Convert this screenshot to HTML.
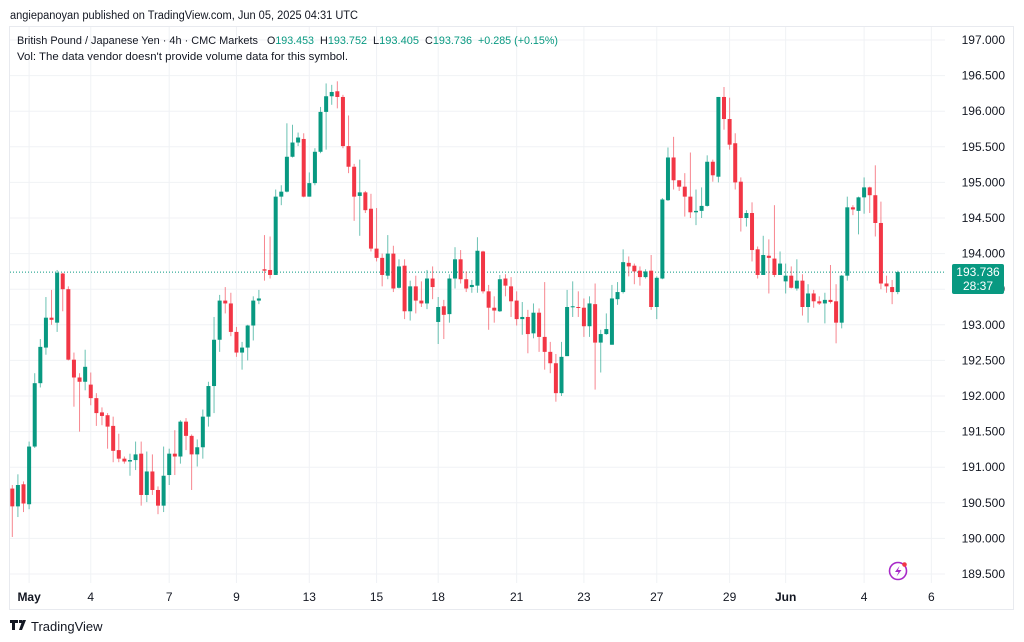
<!DOCTYPE html>
<html><head><meta charset="utf-8"><style>
html,body{margin:0;padding:0;background:#fff;width:1024px;height:642px;overflow:hidden;font-family:"Liberation Sans",sans-serif;}
svg text{font-family:"Liberation Sans",sans-serif;}
</style></head><body>
<svg id="chart" width="1024" height="642" viewBox="0 0 1024 642" xmlns="http://www.w3.org/2000/svg">
<text x="10" y="19" font-size="11.5" fill="#131722" textLength="348" lengthAdjust="spacingAndGlyphs">angiepanoyan published on TradingView.com, Jun 05, 2025 04:31 UTC</text>
<rect x="9.5" y="26.5" width="1004" height="583" fill="#fff" stroke="#e8eaef"/>
<g id="grid"></g>
<g id="candles"></g>
<g id="yaxis"></g>
<g id="xaxis"></g>
<g font-size="11">
<text x="17" y="44" fill="#131722" textLength="241" lengthAdjust="spacingAndGlyphs">British Pound / Japanese Yen · 4h · CMC Markets</text>
<text x="267" y="44" fill="#131722" textLength="47" lengthAdjust="spacingAndGlyphs">O<tspan fill="#089981">193.453</tspan></text>
<text x="320" y="44" fill="#131722" textLength="47" lengthAdjust="spacingAndGlyphs">H<tspan fill="#089981">193.752</tspan></text>
<text x="373" y="44" fill="#131722" textLength="46" lengthAdjust="spacingAndGlyphs">L<tspan fill="#089981">193.405</tspan></text>
<text x="425" y="44" fill="#131722" textLength="47" lengthAdjust="spacingAndGlyphs">C<tspan fill="#089981">193.736</tspan></text>
<text x="478" y="44" fill="#089981" textLength="80" lengthAdjust="spacingAndGlyphs">+0.285 (+0.15%)</text>
</g>
<text x="17" y="60" font-size="11" fill="#131722" textLength="331" lengthAdjust="spacingAndGlyphs">Vol: The data vendor doesn't provide volume data for this symbol.</text>
<g>
<rect x="952" y="264" width="52" height="30" rx="2" fill="#089981"/>
<text x="978" y="276" font-size="12" fill="#fff" text-anchor="middle">193.736</text>
<text x="978" y="290" font-size="12" fill="#fff" text-anchor="middle">28:37</text>
</g>
<g>
<circle cx="898" cy="571" r="8.5" fill="none" stroke="#a829c8" stroke-width="1.6"/>
<path d="M899.5 566 L895 572 L898.5 572 L896.5 576.5 L901.5 570 L898 570 Z" fill="#a829c8"/>
<circle cx="904.5" cy="564.5" r="2.3" fill="#f23645"/>
</g>
<g>
<path d="M10 620 h8 v3 h-3 v7 h-3 v-7 h-2 z M19 620 h3 v3 h-3 z M22.5 620 h3.5 l-4 10 h-3 z" fill="#131722"/>
<text x="31" y="631" font-size="13" fill="#131722">TradingView</text>
</g>
</svg>
<script>
const opens=[190.70,190.45,190.76,190.48,191.29,192.18,192.68,193.10,193.03,193.72,193.50,192.51,192.26,192.20,192.16,191.97,191.77,191.73,191.58,191.24,191.12,191.08,191.10,191.19,190.61,190.94,190.68,190.46,
190.89,191.19,191.15,191.64,191.44,191.18,191.28,191.71,192.14,192.79,193.34,193.30,192.90,192.61,192.68,192.99,193.34,193.78,193.77,193.70,194.80,194.87,195.36,195.56,195.61,194.80,194.99,
195.43,195.99,196.21,196.28,196.20,195.51,195.22,194.81,194.86,194.63,194.07,193.94,193.69,194.00,193.52,193.83,193.19,193.54,193.34,193.30,193.65,193.04,193.26,193.15,193.65,193.92,193.64,
193.53,193.55,194.03,193.47,193.24,193.19,193.65,193.54,193.34,193.08,193.11,192.88,193.17,192.83,192.62,192.46,192.04,192.56,193.25,193.25,193.24,192.98,193.29,192.75,192.87,192.72,193.36,193.46,
193.87,193.83,193.76,193.67,193.76,193.25,193.65,194.75,195.35,195.03,194.94,194.80,194.58,194.60,194.67,195.29,195.08,196.20,195.89,195.55,195.01,194.50,194.57,194.06,193.70,193.97,193.93,193.70,
193.61,193.69,193.51,193.62,193.25,193.44,193.33,193.30,193.35,193.33,193.03,193.69,194.65,194.60,194.79,194.93,194.82,194.43,193.58,193.53,193.46];
const highs=[190.75,190.90,190.80,191.36,192.32,192.80,193.39,193.49,193.77,193.73,193.54,192.61,192.32,192.65,192.33,192.04,191.84,191.76,191.71,191.47,191.15,191.19,191.36,191.36,191.22,191.18,190.73,191.29,
191.26,191.52,191.66,191.69,191.46,191.39,191.81,192.20,193.11,193.42,193.53,193.45,192.97,192.76,193.00,193.40,193.49,194.26,194.24,194.90,194.96,195.83,195.81,195.70,195.69,195.14,195.48,
196.06,196.39,196.37,196.42,196.23,195.94,195.26,195.32,194.88,194.84,194.64,194.00,194.26,194.11,193.92,193.92,193.62,193.69,193.61,193.77,193.82,193.39,193.35,193.71,194.09,194.05,193.75,
193.63,194.23,194.04,193.56,193.40,193.70,193.71,193.67,193.47,193.32,193.21,193.30,193.23,193.60,192.76,192.59,192.76,193.49,193.61,193.47,193.37,193.40,193.58,192.93,193.16,193.56,193.60,194.06,
193.96,193.86,193.82,193.78,193.98,193.68,194.78,195.49,195.64,195.03,195.13,195.42,194.90,194.93,195.38,195.32,196.20,196.34,196.19,195.69,195.07,194.61,194.72,194.10,194.25,194.20,194.68,194.03,
193.86,193.82,193.92,193.71,193.57,193.49,193.40,193.45,193.84,193.57,193.70,194.80,194.68,194.80,195.07,194.94,195.24,194.73,193.69,193.63,193.76];
const lows=[190.02,190.30,190.37,190.41,191.27,192.12,192.58,193.00,192.90,193.19,192.50,191.85,191.50,192.08,191.87,191.58,191.59,191.26,191.07,191.07,191.05,190.88,190.96,190.46,190.51,190.61,190.34,190.37,
190.75,190.89,191.05,191.24,190.68,191.01,191.12,191.57,191.76,192.62,193.16,192.84,192.55,192.37,192.50,192.78,193.29,193.62,193.65,193.70,194.68,194.86,195.35,195.51,194.79,194.80,194.96,
195.41,195.46,196.09,196.04,195.48,195.13,194.46,194.25,194.57,194.03,193.89,193.54,193.64,193.46,193.51,193.08,193.06,193.16,193.25,193.22,193.36,192.73,192.80,193.03,193.51,193.58,193.46,
193.45,193.45,193.44,192.93,193.03,193.18,193.40,193.11,192.99,192.86,192.60,192.81,192.62,192.37,192.32,191.92,192.00,192.56,193.11,193.11,192.83,192.83,192.09,192.33,192.86,192.72,193.28,193.44,
193.68,193.57,193.55,193.65,193.21,193.08,193.64,194.74,194.90,194.88,194.52,194.50,194.40,194.50,194.66,195.01,195.00,195.74,195.46,194.90,194.31,194.38,193.89,193.65,193.70,193.44,193.67,193.70,
193.44,193.51,193.48,193.13,193.03,193.24,193.28,193.02,193.30,192.74,192.95,193.62,194.54,194.27,194.56,194.57,194.24,193.50,193.45,193.29,193.43];
const closes=[190.45,190.75,190.49,191.29,192.18,192.69,193.10,193.07,193.73,193.50,192.51,192.26,192.20,192.41,191.97,191.76,191.72,191.57,191.23,191.12,191.08,191.10,191.18,190.61,190.94,190.68,190.46,190.88,
191.19,191.15,191.64,191.44,191.18,191.28,191.71,192.14,192.79,193.34,193.30,192.90,192.61,192.68,192.99,193.34,193.37,193.76,193.70,194.80,194.87,195.36,195.56,195.63,194.80,194.99,195.43,
195.99,196.21,196.27,196.20,195.51,195.22,194.80,194.86,194.61,194.07,193.94,193.70,194.00,193.51,193.82,193.19,193.54,193.34,193.30,193.65,193.53,193.25,193.14,193.65,193.92,193.64,193.51,
193.56,194.04,193.47,193.24,193.20,193.64,193.55,193.33,193.08,193.11,192.87,193.17,192.83,192.62,192.46,192.04,192.55,193.25,193.26,193.24,192.98,193.30,192.75,192.87,192.94,193.37,193.46,193.88,
193.82,193.75,193.67,193.75,193.25,193.66,194.76,195.35,195.03,194.94,194.80,194.58,194.60,194.67,195.29,195.10,196.20,195.89,195.53,195.00,194.50,194.57,194.05,193.70,193.98,193.94,193.70,193.86,
193.69,193.52,193.62,193.25,193.44,193.33,193.30,193.35,193.32,193.03,193.69,194.65,194.62,194.79,194.93,194.82,194.43,193.58,193.54,193.46,193.74];
const priceTicks=[197.0,196.5,196.0,195.5,195.0,194.5,194.0,193.5,193.0,192.5,192.0,191.5,191.0,190.5,190.0,189.5];
const timeLabels=["May","4","7","9","13","15","18","21","23","27","29","Jun","4","6"];
const timeLabelIdx=[3,14,28,40,53,65,76,90,102,115,128,138,152,164];
const boldLabels=["May","Jun"];

const NS="http://www.w3.org/2000/svg";
const X0=12.3, STEP=5.604;
function xOf(i){return X0+i*STEP;}
function yOf(p){return 40+(197-p)*71.2;}
function mk(tag,attrs,parent){const e=document.createElementNS(NS,tag);for(const k in attrs)e.setAttribute(k,attrs[k]);parent.appendChild(e);return e;}
const grid=document.getElementById('grid'),cg=document.getElementById('candles'),ya=document.getElementById('yaxis'),xa=document.getElementById('xaxis');
priceTicks.forEach(p=>{
  const l=mk('line',{x1:10,x2:945,y1:yOf(p),y2:yOf(p),stroke:'#f0f2f5','stroke-width':1},grid);
  
  
  const t=mk('text',{x:1005,y:yOf(p)+4,'font-size':12,fill:'#131722','text-anchor':'end'},ya);
  t.textContent=p.toFixed(3);
  
  
});
timeLabels.forEach((s,k)=>{
  const x=xOf(timeLabelIdx[k]);
  const l=mk('line',{x1:x,x2:x,y1:27,y2:583,stroke:'#f0f2f5','stroke-width':1},grid);
  
  
  const t=mk('text',{x:x,y:601,'font-size':12,fill:'#131722','text-anchor':'middle','font-weight':boldLabels.includes(s)?'bold':'normal'},xa);
  t.textContent=s;
  
  
});
const last=closes[closes.length-1];
const pl=mk('line',{x1:10,x2:945,y1:yOf(last),y2:yOf(last),stroke:'#089981','stroke-width':1,'stroke-dasharray':'1 2'},grid);


for(let i=0;i<closes.length;i++){
  const up=closes[i]>=opens[i];
  const col=up?'#089981':'#f23645';
  const x=xOf(i);
  const g=mk('g',{},cg);
  
  
  mk('line',{x1:x,x2:x,y1:yOf(highs[i]),y2:yOf(lows[i]),stroke:col,'stroke-opacity':0.6,'stroke-width':1},g);
  const top=yOf(Math.max(opens[i],closes[i])),bot=yOf(Math.min(opens[i],closes[i]));
  mk('rect',{x:x-2,y:top,width:4,height:Math.max(1,bot-top),fill:col},g);
}
</script>
</body></html>
